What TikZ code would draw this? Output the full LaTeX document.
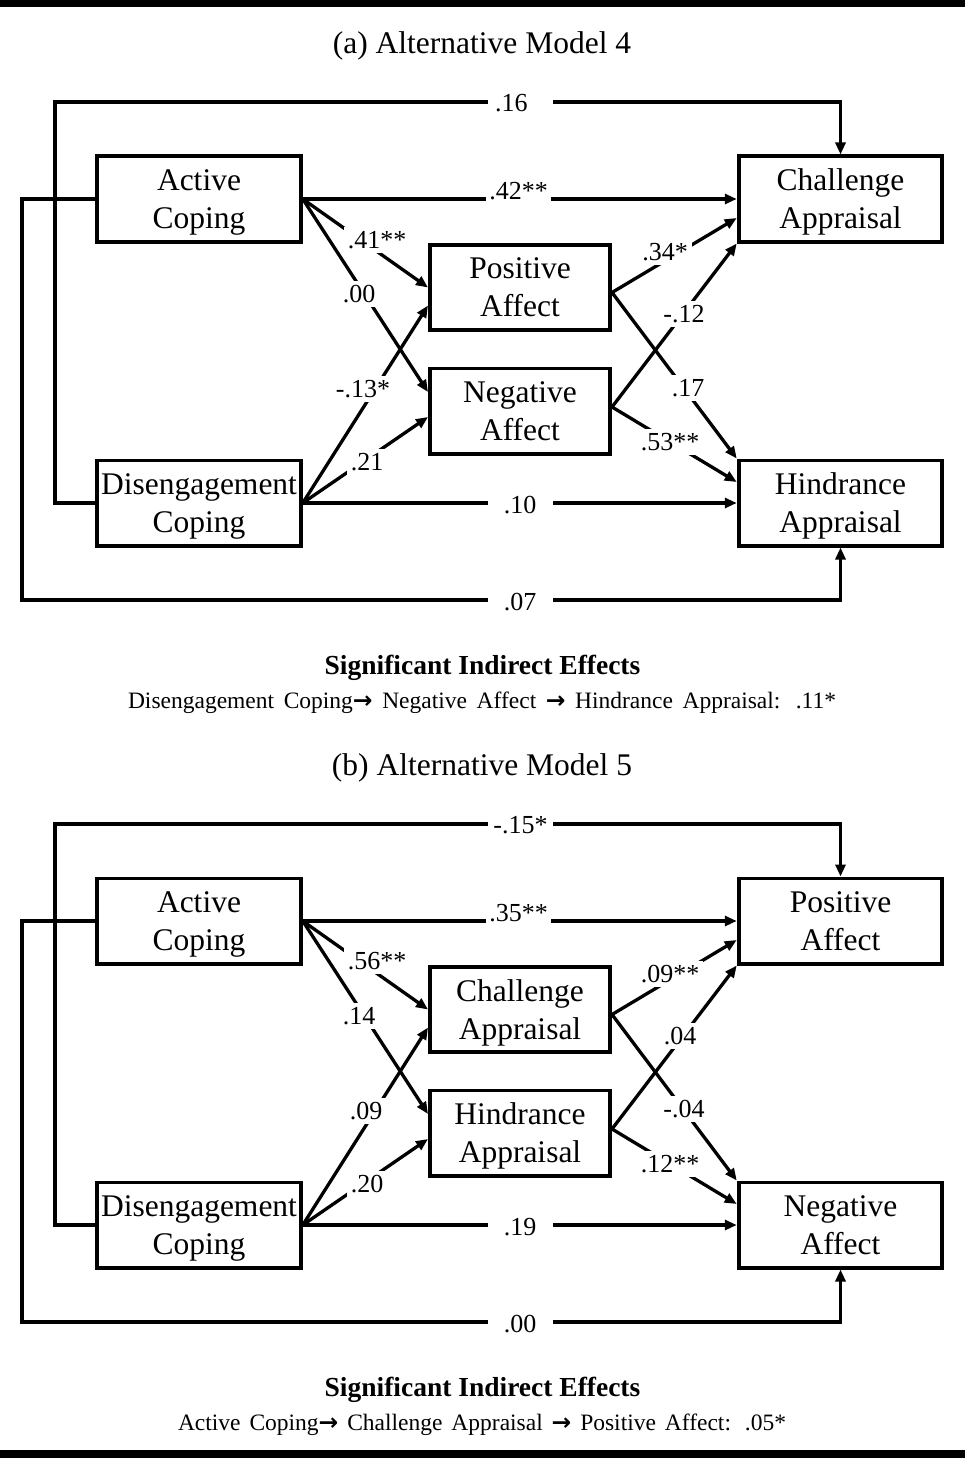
\documentclass[tikz,border=0pt]{standalone}
\usepackage{fontspec}
\setmainfont{Liberation Serif}
\newfontfamily\arrowfont{DejaVu Sans}
\usetikzlibrary{arrows.meta}
\begin{document}
\begin{tikzpicture}[x=1pt,y=-1pt,
  box/.style={draw, line width=3.8pt, inner sep=0pt, align=center, text depth=0pt, font=\fontsize{31.5}{38}\selectfont},
  wbox/.style={box, minimum width=203.7pt, minimum height=85.2pt},
  mbox/.style={box, minimum width=180.2pt, minimum height=85.2pt},
  conn/.style={line width=3.3pt, -{Triangle[length=12pt,width=10pt]}},
  lab/.style={fill=white, inner sep=4pt, font=\fontsize{26}{26}\selectfont},
  hlab/.style={fill=white, inner xsep=0pt, inner ysep=4pt, minimum width=65pt, font=\fontsize{26}{26}\selectfont},
  ttl/.style={font=\fontsize{31.5}{36}\selectfont},
  sig/.style={font=\fontsize{27.5}{30}\selectfont\bfseries},
  ind/.style={font=\fontsize{23.5}{27}\selectfont},
  rule/.style={fill=black}
]
\useasboundingbox (0,0) rectangle (965,1458);
\fill[rule] (0,0) rectangle (965,7.5);
\fill[rule] (0,1450) rectangle (965,1458);

% ---------------- Panel (a) ----------------
\node[ttl] (ta) at (482,46) {(a) Alternative Model 4};
\node[wbox] (aAC) at (199,199) {Active\\Coping};
\node[wbox] (aDC) at (199,503) {Disengagement\\Coping};
\node[mbox] (aPA) at (520,287.5) {Positive\\Affect};
\node[mbox] (aNA) at (520,411) {Negative\\Affect};
\node[wbox] (aCA) at (840.5,199) {Challenge\\Appraisal};
\node[wbox] (aHA) at (840.5,503) {Hindrance\\Appraisal};
\coordinate (a16) at (55,102);
\coordinate (a07) at (22,600);

\draw[conn] (aDC.west) -| (a16) -| (aCA.north);
\draw[conn] (aAC.west) -| (a07) -| (aHA.south);
\draw[conn] (aAC.east) -- (aCA.west);
\draw[conn] (aDC.east) -- (aHA.west);
\draw[conn] (aAC.east) -- (aPA.west);
\draw[conn] (aAC.east) -- ([yshift=19pt]aNA.west);
\draw[conn] (aDC.east) -- ([yshift=-18pt]aPA.west);
\draw[conn] (aDC.east) -- ([yshift=-6pt]aNA.west);
\draw[conn] ([yshift=-5pt]aPA.east) -- ([yshift=-19pt]aCA.west);
\draw[conn] ([yshift=-5pt]aPA.east) -- (aHA.north west);
\draw[conn] ([yshift=4pt]aNA.east) -- (aCA.south west);
\draw[conn] ([yshift=4pt]aNA.east) -- ([yshift=21pt]aHA.west);

\node[hlab] (a-l16) at (520.5,103) {\makebox[51pt][l]{.16}};
\node[hlab] (a-l42) at (518.5,191) {.42**};
\node[lab] (a-l41) at (377,240) {.41**};
\node[lab] (a-l00) at (359,294) {.00};
\node[lab] (a-l13) at (363,389) {-.13*};
\node[lab] (a-l21) at (367,462) {.21};
\node[lab] (a-l34) at (665,252) {.34*};
\node[lab] (a-l12) at (684,314) {-.12};
\node[lab] (a-l17) at (688,388) {.17};
\node[lab] (a-l53) at (670,442) {.53**};
\node[hlab] (a-l10) at (520,505) {.10};
\node[hlab] (a-l07) at (520,602) {.07};

\node[sig] (sa) at (482.5,668) {Significant Indirect Effects};
\node[ind] (ia) at (482,703) {\makebox[708pt][s]{Disengagement Coping{\arrowfont\bfseries →} Negative Affect {\arrowfont\bfseries →} Hindrance Appraisal: .11*}};

% ---------------- Panel (b) ----------------
\node[ttl] (tb) at (482,768) {(b) Alternative Model 5};
\node[wbox] (bAC) at (199,921) {Active\\Coping};
\node[wbox] (bDC) at (199,1225) {Disengagement\\Coping};
\node[mbox] (bCA) at (520,1009.5) {Challenge\\Appraisal};
\node[mbox] (bHA) at (520,1133) {Hindrance\\Appraisal};
\node[wbox] (bPA) at (840.5,921) {Positive\\Affect};
\node[wbox] (bNA) at (840.5,1225) {Negative\\Affect};
\coordinate (b15) at (55,824);
\coordinate (b00) at (22,1322);

\draw[conn] (bDC.west) -| (b15) -| (bPA.north);
\draw[conn] (bAC.west) -| (b00) -| (bNA.south);
\draw[conn] (bAC.east) -- (bPA.west);
\draw[conn] (bDC.east) -- (bNA.west);
\draw[conn] (bAC.east) -- (bCA.west);
\draw[conn] (bAC.east) -- ([yshift=19pt]bHA.west);
\draw[conn] (bDC.east) -- ([yshift=-18pt]bCA.west);
\draw[conn] (bDC.east) -- ([yshift=-6pt]bHA.west);
\draw[conn] ([yshift=-5pt]bCA.east) -- ([yshift=-19pt]bPA.west);
\draw[conn] ([yshift=-5pt]bCA.east) -- (bNA.north west);
\draw[conn] ([yshift=4pt]bHA.east) -- (bPA.south west);
\draw[conn] ([yshift=4pt]bHA.east) -- ([yshift=21pt]bNA.west);

\node[hlab] (b-l15) at (520.5,825.5) {-.15*};
\node[hlab] (b-l35) at (518.5,913) {.35**};
\node[lab] (b-l56) at (377,961) {.56**};
\node[lab] (b-l14) at (359,1016) {.14};
\node[lab] (b-l09) at (366,1111) {.09};
\node[lab] (b-l20) at (367,1184) {.20};
\node[lab] (b-l09s) at (670,974) {.09**};
\node[lab] (b-l04) at (680,1036) {.04};
\node[lab] (b-l04n) at (684,1109) {-.04};
\node[lab] (b-l12) at (670,1164) {.12**};
\node[hlab] (b-l19) at (520,1227) {.19};
\node[hlab] (b-l00) at (520,1324) {.00};

\node[sig] (sb) at (482.5,1390) {Significant Indirect Effects};
\node[ind] (ib) at (482,1425) {\makebox[608pt][s]{Active Coping{\arrowfont\bfseries →} Challenge Appraisal {\arrowfont\bfseries →} Positive Affect: .05*}};
\end{tikzpicture}
\end{document}
